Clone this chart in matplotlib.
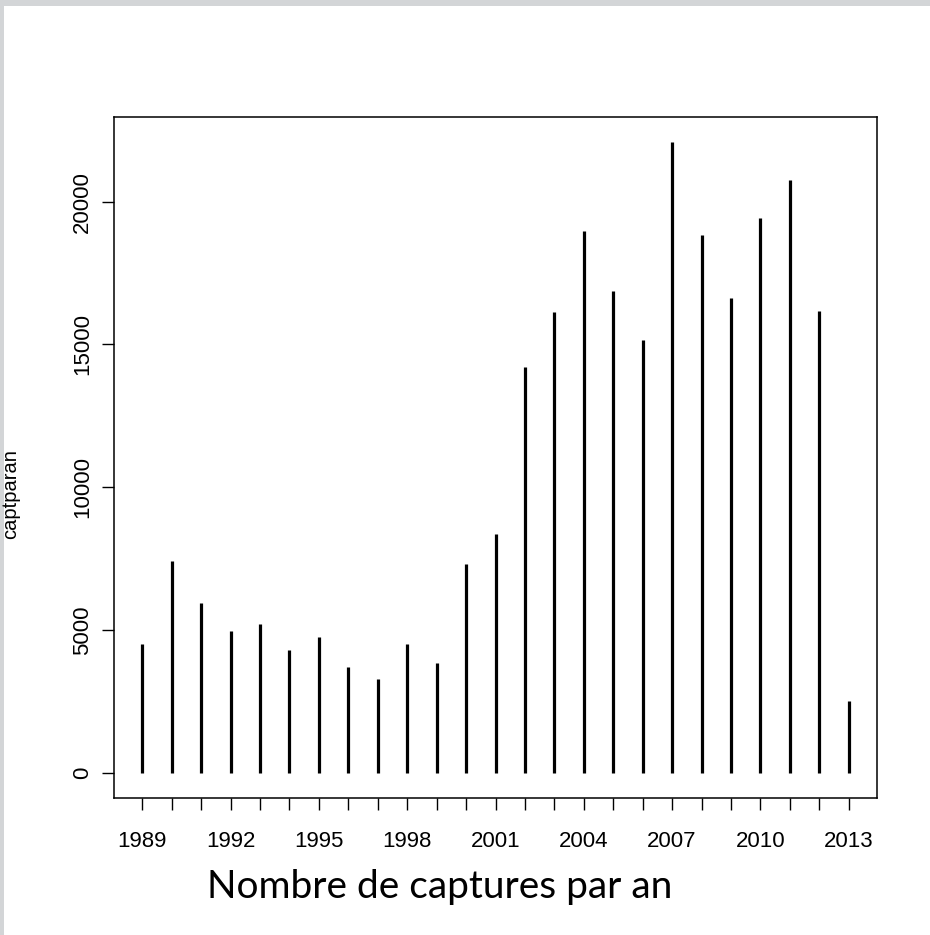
import matplotlib
matplotlib.use('Agg')
import matplotlib.pyplot as plt
from matplotlib.patches import Rectangle

# captures per year
years = list(range(1989, 2014))
captparan = [4500, 7400, 5950, 4950, 5200, 4300, 4750, 3700, 3300, 4500,
             3850, 7300, 8350, 14200, 16150, 18980, 16870, 15150, 22080,
             18820, 16620, 19420, 20770, 16170, 2520]
xtick_years = list(range(1989, 2014, 3))
ytick_vals = [0, 5000, 10000, 15000, 20000]

plt.rcParams['font.family'] = ['Liberation Sans', 'DejaVu Sans']

fig = plt.figure(figsize=(9.30, 9.35), dpi=100)
fig.patch.set_facecolor('white')
# grey slide border on the left and top
fig.patches.append(Rectangle((0, 0), 4 / 930, 1, transform=fig.transFigure,
                             facecolor='#d3d5d7', edgecolor='none', zorder=0))
fig.patches.append(Rectangle((0, 1 - 6 / 935), 1, 6 / 935, transform=fig.transFigure,
                             facecolor='#d3d5d7', edgecolor='none', zorder=0))

ax = fig.add_axes([114 / 930, 1 - 798 / 935, (877 - 114) / 930, (798 - 117) / 935])
ax.set_zorder(2)
ax.vlines(years, 0, captparan, colors='black', linewidth=2.3)

# R-style 4% extension on both axes
span_x = years[-1] - years[0]
ax.set_xlim(years[0] - 0.04 * span_x, years[-1] + 0.04 * span_x)
ymax = max(captparan)
ax.set_ylim(-0.04 * ymax, ymax * 1.04)

ax.set_xticks(years, minor=True)
ax.set_xticks(xtick_years)
ax.set_xticklabels([str(y) for y in xtick_years])
ax.set_yticks(ytick_vals)
ax.set_yticklabels([str(v) for v in ytick_vals])

ax.tick_params(axis='both', which='both', direction='out', length=8.6, width=1.0,
               color='black', labelsize=16)
ax.tick_params(axis='x', pad=15)
ax.tick_params(axis='y', pad=6.5, labelrotation=90)
for lab in ax.get_yticklabels():
    lab.set_va('center')

for sp in ax.spines.values():
    sp.set_linewidth(1.1)

fig.text(11 / 930, 1 - 494 / 935, 'captparan', rotation=90, fontsize=14.5,
         ha='center', va='center')

fig.text(440 / 930, 1 - 887 / 935, 'Nombre de captures par an',
         family=['Lato', 'DejaVu Sans'], fontsize=28, ha='center', va='center')

fig.savefig('out.png', dpi=100, facecolor=fig.get_facecolor())
